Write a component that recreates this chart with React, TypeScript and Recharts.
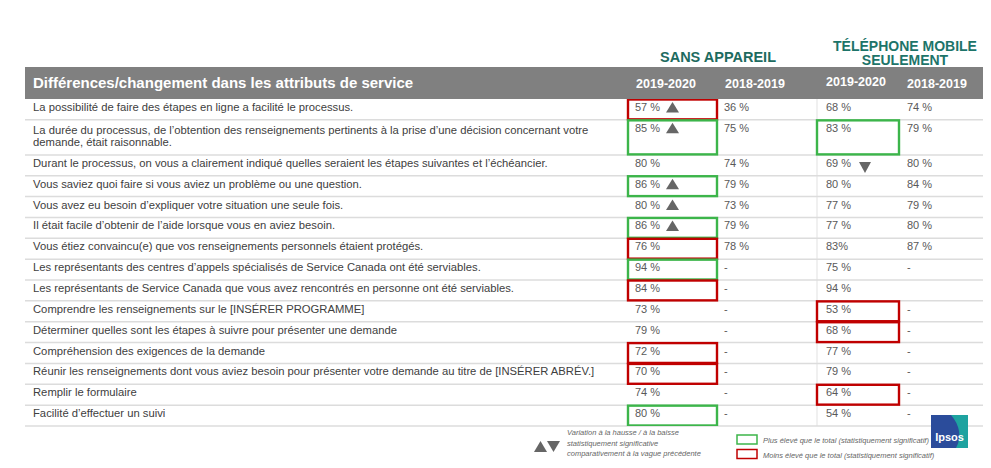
import React from "react";
import { ScatterChart, Scatter, XAxis, YAxis, ReferenceLine } from "recharts";

const labels = [
  "La possibilité de faire des étapes en ligne a facilité le processus.",
  "La durée du processus, de l’obtention des renseignements pertinents à la prise d’une décision concernant votre\ndemande, était raisonnable.",
  "Durant le processus, on vous a clairement indiqué quelles seraient les étapes suivantes et l’échéancier.",
  "Vous saviez quoi faire si vous aviez un problème ou une question.",
  "Vous avez eu besoin d’expliquer votre situation une seule fois.",
  "Il était facile d’obtenir de l’aide lorsque vous en aviez besoin.",
  "Vous étiez convaincu(e) que vos renseignements personnels étaient protégés.",
  "Les représentants des centres d’appels spécialisés de Service Canada ont été serviables.",
  "Les représentants de Service Canada que vous avez rencontrés en personne ont été serviables.",
  "Comprendre les renseignements sur le [INSÉRER PROGRAMME]",
  "Déterminer quelles sont les étapes à suivre pour présenter une demande",
  "Compréhension des exigences de la demande",
  "Réunir les renseignements dont vous aviez besoin pour présenter votre demande au titre de [INSÉRER ABRÉV.]",
  "Remplir le formulaire",
  "Facilité d’effectuer un suivi",
];

const sans2020 = [57, 85, 80, 86, 80, 86, 76, 94, 84, 73, 79, 72, 70, 74, 80];
const sans2019 = [36, 75, 74, 79, 73, 79, 78, "-", "-", "-", "-", "-", "-", "-", "-"];
const tel2020 = [68, 83, 69, 80, 77, 77, 83, 75, 94, 53, 68, 77, 79, 64, 54];
const tel2019 = [74, 79, 80, 84, 79, 80, 87, "-", "", "-", "-", "-", "-", "-", "-"];

const sansTrend = ["up", "up", null, "up", "up", "up", null, null, null, null, null, null, null, null, null];
const telTrend = [null, null, "down", null, null, null, null, null, null, null, null, null, null, null, null];

const sansSig = ["lo", "hi", null, "hi", null, "hi", "lo", "hi", "lo", null, null, "lo", "lo", null, "hi"];
const telSig = [null, "hi", null, null, null, null, null, null, null, "lo", "lo", null, null, "lo", null];

const groupTitles = ["SANS APPAREIL", ["TÉLÉPHONE MOBILE", "SEULEMENT"]];
const waveLabels = ["2019-2020", "2018-2019", "2019-2020", "2018-2019"];

const FONT = "'Liberation Sans', Arial, sans-serif";
const RED = "#c00000";
const GREEN = "#3cb54a";
const TEXT = "#595959";

const W = 991;
const H = 468;
const MARGIN = { top: 99, right: 8, bottom: 42, left: 25 };

// column anchors in table units (1 unit = 1px of the table width)
const TABLE_W = W - MARGIN.left - MARGIN.right;
const COL_X = [610, 699, 801, 882];
const BOX_X = [[603, 692], [792, 874]];

const rowUnits = labels.map((l) => (l.includes("\n") ? 1.68 : 1));
const rowTop: number[] = [];
rowUnits.reduce((acc, u, i) => {
  rowTop[i] = acc;
  return acc + u;
}, 0);
const TOTAL = rowUnits.reduce((a, b) => a + b, 0);
const PX_PER_ROW = (H - MARGIN.top - MARGIN.bottom) / TOTAL;

const fmt = (v: any) => (typeof v === "number" ? `${v} %` : v);

const labelPoints = labels.map((l, i) => ({ x: 8, y: rowTop[i], text: l }));
const cellPoints = labels.flatMap((_, i) => [
  { x: COL_X[0], y: rowTop[i], text: fmt(sans2020[i]), trend: sansTrend[i] },
  { x: COL_X[1], y: rowTop[i], text: fmt(sans2019[i]) },
  { x: COL_X[2], y: rowTop[i], text: i === 6 ? `${tel2020[i]}%` : fmt(tel2020[i]), trend: telTrend[i] },
  { x: COL_X[3], y: rowTop[i], text: fmt(tel2019[i]) },
]);
const boxPoints = [
  ...sansSig.map((s, i) => ({ s, i, col: 0 })),
  ...telSig.map((s, i) => ({ s, i, col: 1 })),
]
  .filter((b) => b.s)
  .map((b) => ({ x: BOX_X[b.col][0], y: rowTop[b.i], w: BOX_X[b.col][1] - BOX_X[b.col][0], h: rowUnits[b.i], s: b.s }));

const LabelShape = (props: any) => {
  const { cx, cy, payload } = props;
  const lines = payload.text.split("\n");
  return (
    <text x={cx} y={cy + (lines.length > 1 ? 14 : 12)} fontSize={11.25} fontFamily={FONT} fill="#404040">
      {lines.map((ln: string, k: number) => (
        <tspan key={k} x={cx} dy={k === 0 ? 0 : 12}>{ln}</tspan>
      ))}
    </text>
  );
};

const CellShape = (props: any) => {
  const { cx, cy, payload } = props;
  return (
    <g>
      <text x={cx} y={cy + 12} fontSize={11} fontFamily={FONT} fill={TEXT}>{payload.text}</text>
      {payload.trend === "up" && (
        <polygon points={`${cx + 37.5},${cy + 3} ${cx + 44},${cy + 13.5} ${cx + 31},${cy + 13.5}`} fill="#666" />
      )}
      {payload.trend === "down" && (
        <polygon points={`${cx + 33},${cy + 7} ${cx + 45},${cy + 7} ${cx + 39},${cy + 18}`} fill="#666" />
      )}
    </g>
  );
};

const BoxShape = (props: any) => {
  const { cx, cy, payload } = props;
  const w = (payload.w * TABLE_W) / TABLE_W;
  const h = payload.h * PX_PER_ROW;
  return (
    <rect x={cx} y={cy + 0.5} width={w} height={h - 1} fill="none"
          stroke={payload.s === "hi" ? GREEN : RED} strokeWidth={2.4} />
  );
};

export default function App() {
  return (
    <div style={{ position: "absolute", left: 0, top: 0, width: W, height: H, background: "#fff", fontFamily: FONT }}>
      <svg width={W} height={H} style={{ position: "absolute", left: 0, top: 0 }}>
        <rect x={25} y={67} width={958} height={32} fill="#808080" />
        <text x={33} y={88} fill="#fff" fontSize={15} fontWeight="bold" fontFamily={FONT}>
          Différences/changement dans les attributs de service
        </text>
        {waveLabels.map((w, k) => (
          <text key={k} x={[666, 755, 856, 937][k]} y={k === 2 ? 86 : 88} fill="#fff" fontSize={12.5}
                fontWeight="bold" fontFamily={FONT} textAnchor="middle">{w}</text>
        ))}
        <text x={718} y={62} fill="#1d6b60" fontSize={14.5} fontWeight="bold" fontFamily={FONT} textAnchor="middle">
          {groupTitles[0] as string}
        </text>
        <text x={905} y={50.5} fill="#1d7469" fontSize={14} fontWeight="bold" fontFamily={FONT} textAnchor="middle">
          <tspan x={905}>{(groupTitles[1] as string[])[0]}</tspan>
          <tspan x={905} dy={14}>{(groupTitles[1] as string[])[1]}</tspan>
        </text>
      </svg>

      <div style={{ position: "absolute", left: 0, top: 0 }}>
        <ScatterChart width={W} height={H} margin={MARGIN}>
          <XAxis type="number" dataKey="x" domain={[0, TABLE_W]} hide allowDataOverflow />
          <YAxis type="number" dataKey="y" domain={[0, TOTAL]} reversed hide allowDataOverflow />
          <ReferenceLine x={792} stroke="#f0f0f0" strokeWidth={2} ifOverflow="visible" />
          {rowTop.map((t, i) => (
            <ReferenceLine key={i} y={t + rowUnits[i]} stroke="#dcdcdc" strokeWidth={1.5} ifOverflow="visible" />
          ))}
          <Scatter data={labelPoints} shape={LabelShape} isAnimationActive={false} />
          <Scatter data={cellPoints} shape={CellShape} isAnimationActive={false} />
          <Scatter data={boxPoints} shape={BoxShape} isAnimationActive={false} />
        </ScatterChart>
      </div>

      <svg width={W} height={H} style={{ position: "absolute", left: 0, top: 0, pointerEvents: "none" }}>
        <polygon points="540.5,441 547,452 534,452" fill="#666" />
        <polygon points="547,441 560,441 553.5,452" fill="#666" />
        <g fontSize={7.5} fontStyle="italic" fill="#666" fontFamily={FONT}>
          <text x={567} y={434.5}>Variation à la hausse / à la baisse</text>
          <text x={567} y={445.5}>statistiquement significative</text>
          <text x={567} y={455.5}>comparativement à la vague précédente</text>
          <text x={763} y={443}>Plus élevé que le total (statistiquement significatif)</text>
          <text x={763} y={457.5}>Moins élevé que le total (statistiquement significatif)</text>
        </g>
        <rect x={737} y={435} width={20} height={9} fill="none" stroke={GREEN} strokeWidth={1.5} />
        <rect x={737} y={449.5} width={20} height={9} fill="none" stroke={RED} strokeWidth={1.5} />
        <rect x={931} y={415} width={37} height={33} fill="#2b4c9b" />
        <path d="M951,415 L968,415 L968,448 L956,448 C962,438 960,425 951,415 Z" fill="#1ea3a0" />
        <text x={949.5} y={441} fill="#fff" fontSize={11} fontWeight="bold" fontFamily={FONT} textAnchor="middle">Ipsos</text>
      </svg>
    </div>
  );
}
